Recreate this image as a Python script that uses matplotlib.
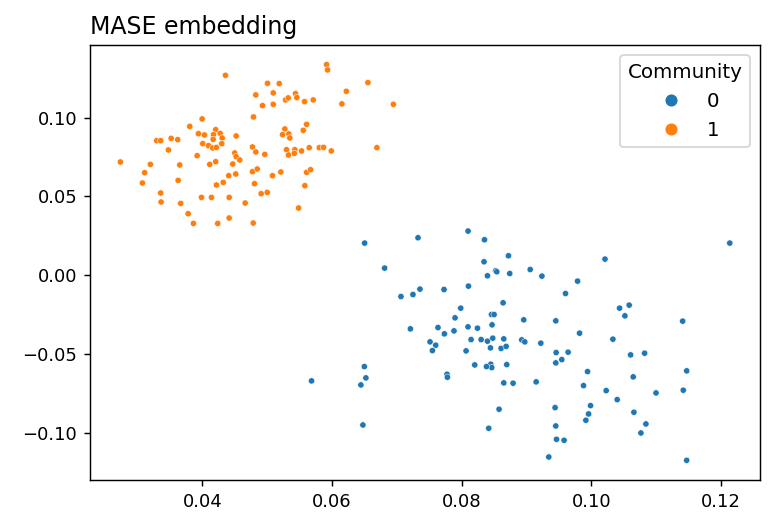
import numpy as np
import pandas as pd
import matplotlib
matplotlib.use('Agg')
import matplotlib.pyplot as plt
from matplotlib.lines import Line2D
import seaborn as sns

# community 1 (orange) embedding coordinates
x1 = [0.04355, 0.05004, 0.05184, 0.04823, 0.05092, 0.05282, 0.05323, 0.04926, 0.05092, 0.04787,
      0.03995, 0.03804, 0.04205, 0.04273, 0.03938, 0.04031, 0.04170, 0.04304, 0.04165, 0.04520,
      0.05271, 0.05235, 0.05333, 0.03517, 0.03619, 0.03294, 0.03356, 0.04005, 0.04093, 0.04159,
      0.04216, 0.04298, 0.03475, 0.04772, 0.04823, 0.04962, 0.05297, 0.05328, 0.03918, 0.04499,
      0.04520, 0.04576, 0.02734, 0.03197, 0.03650, 0.04113, 0.04205, 0.04468, 0.03109, 0.03074,
      0.03625, 0.04406, 0.04514, 0.04772, 0.04845, 0.05081, 0.05209, 0.04216, 0.04320, 0.04803,
      0.03356, 0.03362, 0.03665, 0.03985, 0.04139, 0.04412, 0.04659, 0.04906, 0.04999, 0.03779,
      0.03861, 0.04236, 0.04412, 0.04783, 0.05915, 0.05930, 0.06552, 0.06219, 0.06151, 0.06945,
      0.05436, 0.05456, 0.05575, 0.05709, 0.05348, 0.05606, 0.05555, 0.05425, 0.05416, 0.05529,
      0.05647, 0.05802, 0.05868, 0.05987, 0.06691, 0.05606, 0.05668, 0.05580, 0.05483]
y1 = [0.12686, 0.12178, 0.12160, 0.11441, 0.11568, 0.11124, 0.11251, 0.10762, 0.10845, 0.10044,
      0.09917, 0.09448, 0.09238, 0.09003, 0.08984, 0.08901, 0.08920, 0.08711, 0.08622, 0.08838,
      0.09282, 0.08921, 0.08965, 0.08686, 0.08603, 0.08540, 0.08540, 0.08349, 0.08222, 0.08076,
      0.08114, 0.08349, 0.07949, 0.08140, 0.07822, 0.07670, 0.07968, 0.07630, 0.07587, 0.07759,
      0.07524, 0.07314, 0.07187, 0.07035, 0.06997, 0.07035, 0.07206, 0.07060, 0.06508, 0.05853,
      0.06019, 0.06317, 0.06425, 0.06571, 0.06742, 0.06317, 0.06552, 0.05727, 0.05892, 0.05810,
      0.05219, 0.04648, 0.04559, 0.04940, 0.04940, 0.04940, 0.04584, 0.05175, 0.05257, 0.03905,
      0.03289, 0.03289, 0.03632, 0.03314, 0.13366, 0.13029, 0.12222, 0.11670, 0.10870, 0.10845,
      0.11524, 0.11270, 0.11016, 0.11124, 0.08711, 0.09575, 0.09194, 0.07968, 0.07733, 0.07886,
      0.08095, 0.08095, 0.08114, 0.07886, 0.08095, 0.06527, 0.06698, 0.05683, 0.04267]

# community 0 (blue) embedding coordinates
x0 = [0.06502, 0.07325, 0.08097, 0.08350, 0.08720, 0.08343, 0.08524, 0.08396, 0.08740, 0.06810,
      0.07062, 0.07247, 0.07355, 0.07726, 0.08103, 0.08637, 0.07984, 0.07896, 0.08458, 0.08498,
      0.08467, 0.07207, 0.07633, 0.07732, 0.07880, 0.08096, 0.08242, 0.07510, 0.07598, 0.08143,
      0.08298, 0.08396, 0.08478, 0.08648, 0.07547, 0.08066, 0.08442, 0.08606, 0.08684, 0.12134,
      0.10209, 0.09055, 0.09236, 0.09786, 0.09600, 0.08956, 0.09450, 0.10434, 0.10582, 0.10516,
      0.11407, 0.09817, 0.10331, 0.08925, 0.08972, 0.09219, 0.09455, 0.09640, 0.09450, 0.09543,
      0.10604, 0.10820, 0.08447, 0.08462, 0.08694, 0.09940, 0.11469, 0.10644, 0.08648, 0.08791,
      0.09147, 0.09878, 0.10227, 0.10397, 0.10996, 0.11416, 0.08575, 0.09439, 0.09986, 0.09956,
      0.09914, 0.10655, 0.10840, 0.10763, 0.09450, 0.09461, 0.09578, 0.09342, 0.11469, 0.08416,
      0.06497, 0.06521, 0.06444, 0.06475, 0.07772, 0.07778, 0.08200, 0.08381, 0.05683, 0.08540]
y0 = [0.02043, 0.02381, 0.02806, 0.02253, 0.01237, 0.00857, 0.00286, -0.00033, 0.00113, 0.00456,
      -0.01347, -0.01220, -0.00877, -0.00903, -0.00687, -0.01747, -0.02084, -0.02700, -0.02490, -0.02490,
      -0.03145, -0.03399, -0.03316, -0.03716, -0.03526, -0.03272, -0.03355, -0.04224, -0.04434, -0.04078,
      -0.04078, -0.04180, -0.03989, -0.04034, -0.04776, -0.04796, -0.04605, -0.04637, -0.04510, 0.02043,
      0.01027, 0.00367, -0.00052, -0.00370, -0.01157, -0.02827, -0.02890, -0.02084, -0.01893, -0.02573,
      -0.02909, -0.03671, -0.04053, -0.04097, -0.04224, -0.04306, -0.04903, -0.04878, -0.05558, -0.05348,
      -0.05050, -0.04941, -0.05640, -0.05856, -0.05665, -0.06110, -0.06064, -0.06445, -0.06826, -0.06845,
      -0.06762, -0.06999, -0.07316, -0.07888, -0.07462, -0.07290, -0.08497, -0.08395, -0.08268, -0.08796,
      -0.09196, -0.08688, -0.09431, -0.10003, -0.09558, -0.10403, -0.10466, -0.11527, -0.11737, -0.09704,
      -0.05792, -0.06510, -0.06955, -0.09495, -0.06276, -0.06466, -0.05687, -0.05792, -0.06700, 0.00222]

communities = [0, 1]
colors = ['#1f77b4', '#ff7f0e']

df = pd.DataFrame({
    'x': x0 + x1,
    'y': y0 + y1,
    'Community': [0] * len(x0) + [1] * len(x1),
})

fig, ax = plt.subplots(figsize=(775 / 130, 527 / 130), dpi=130)
fig.subplots_adjust(left=0.116, right=0.981, top=0.915, bottom=0.089)
sns.scatterplot(data=df, x='x', y='y', hue='Community', s=12, ax=ax,
                palette=colors, legend=False)
ax.set_xlabel('')
ax.set_ylabel('')
ax.set_title('MASE embedding', loc='left', fontsize=13.1)

# legend with larger markers, like the original
handles = [Line2D([], [], marker='o', linestyle='', markersize=7.5,
                  markerfacecolor=c, markeredgecolor='white', markeredgewidth=0.8)
           for c in colors]
ax.legend(handles, [str(c) for c in communities], title='Community',
          loc='upper right', fontsize=11, title_fontsize=11)

plt.savefig('out.png', dpi=130)
